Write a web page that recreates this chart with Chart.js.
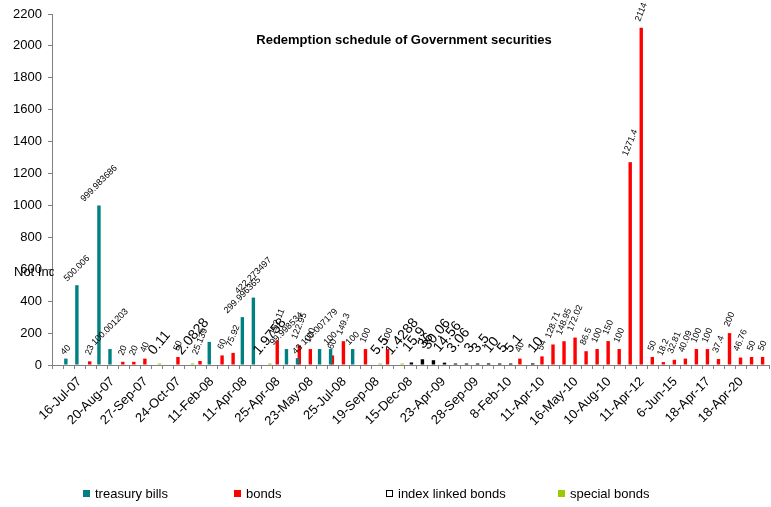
<!DOCTYPE html>
<html>
<head>
<meta charset="utf-8">
<title>Redemption schedule</title>
<script src="https://cdn.jsdelivr.net/npm/chart.js@4.4.1/dist/chart.umd.min.js"></script>
<style>
    body { margin: 0; background: #fff; }
    canvas { display: block; }
</style>
</head>
<body>
<canvas id="redemptionChart" width="771" height="507"></canvas>
<script>
// 65 redemption slots, only every third one carries a date on the axis
const slotCount = 65;
const tickLabels = [
    '16-Jul-07', '20-Aug-07', '27-Sep-07', '24-Oct-07', '11-Feb-08', '11-Apr-08',
    '25-Apr-08', '23-May-08', '25-Jul-08', '19-Sep-08', '15-Dec-08', '23-Apr-09',
    '28-Sep-09', '8-Feb-10', '11-Apr-10', '16-May-10', '10-Aug-10', '11-Apr-12',
    '6-Jun-15', '18-Apr-17', '18-Apr-20'
];

// [slot, amount] pairs per instrument
const treasuryBills = [
    [1, 40], [2, 500.006], [4, 999.983686], [5, 100.001203], [14, 145],
    [17, 299.996365], [18, 422.273497], [21, 99.998534], [22, 43],
    [24, 100.007179], [25, 100], [27, 100]
];
const bonds = [
    [3, 23], [6, 20], [7, 20], [8, 40], [11, 50], [13, 25.139], [15, 60],
    [16, 75.92], [20, 152.11], [22, 122.95], [23, 100], [25, 60], [26, 149.3],
    [28, 100], [30, 100], [42, 40], [44, 54], [45, 128.71], [46, 148.95],
    [47, 172.02], [48, 86.5], [49, 100], [50, 150], [51, 100], [52, 1271.4],
    [53, 2114], [54, 50], [55, 18.2], [56, 32.81], [57, 40.09], [58, 100],
    [59, 100], [60, 37.4], [61, 200], [62, 46.76], [63, 50], [64, 50]
];
const indexLinkedBonds = [
    [32, 15.9], [33, 36], [34, 30.06], [35, 14.56], [36, 3.06], [37, 3],
    [38, 3.5], [39, 10], [40, 5], [41, 5.1], [43, 10]
];
const specialBonds = [
    [9, 0.11], [12, 2.0828], [19, 1.9758], [29, 5.5], [31, 1.4288]
];
// bars printed without a value label
const unlabeledBills = [14];

function toSeries(pairs) {
    const out = new Array(slotCount).fill(null);
    pairs.forEach(function (p) { out[p[0]] = p[1]; });
    return out;
}

const categories = [];
for (let i = 0; i < slotCount; i++) {
    categories.push(i % 3 === 2 ? (tickLabels[(i - 2) / 3] || '') : '');
}

const FONT = 'Arial, "Liberation Sans", sans-serif';

// rotated value labels above each bar
const valueLabels = {
    id: 'valueLabels',
    afterDatasetsDraw(chart) {
        const ctx = chart.ctx;
        chart.data.datasets.forEach(function (ds, di) {
            const meta = chart.getDatasetMeta(di);
            const st = ds.labelStyle;
            meta.data.forEach(function (bar, i) {
                const v = ds.data[i];
                if (v === null || v === undefined) return;
                if (ds.skipLabels && ds.skipLabels.indexOf(i) !== -1) return;
                const text = String(v);
                ctx.save();
                ctx.font = st.size + 'px ' + FONT;
                const w = ctx.measureText(text).width;
                const a = st.angle * Math.PI / 180;
                const bh = w * Math.sin(a) + st.size * Math.cos(a);
                const top = Math.min(bar.y, bar.base);
                ctx.translate(bar.x + (st.dx || 0), top - st.gap - bh / 2);
                ctx.rotate(-a);
                ctx.fillStyle = '#000';
                ctx.textAlign = 'center';
                ctx.textBaseline = 'middle';
                ctx.fillText(text, 0, 0);
                ctx.restore();
            });
        });
    }
};

// title, stray series caption and the bottom legend
const decorations = {
    id: 'decorations',
    afterDraw(chart) {
        const ctx = chart.ctx;
        const area = chart.chartArea;
        ctx.save();
        ctx.fillStyle = '#000';
        ctx.font = 'bold 13px ' + FONT;
        ctx.textAlign = 'center';
        ctx.textBaseline = 'middle';
        ctx.fillText('Redemption schedule of Government securities', 404, 40);

        ctx.save();
        ctx.beginPath();
        ctx.rect(0, 0, area.left + 2, chart.height);
        ctx.clip();
        ctx.font = '13px ' + FONT;
        ctx.textAlign = 'left';
        ctx.fillText('Not Indexed', 14, 272);
        ctx.restore();

        const legendX = [83, 234, 386, 558];
        ctx.font = '13px ' + FONT;
        ctx.textAlign = 'left';
        chart.data.datasets.forEach(function (ds, di) {
            const x = legendX[di];
            const box = ds.legendBox || { fill: ds.backgroundColor };
            ctx.fillStyle = box.fill;
            ctx.fillRect(x, 490, 7, 7);
            if (box.stroke) {
                ctx.strokeStyle = box.stroke;
                ctx.lineWidth = 1;
                ctx.strokeRect(x + 0.5, 490.5, 6, 6);
            }
            ctx.fillStyle = '#000';
            ctx.fillText(ds.label, x + 12, 494);
        });
        ctx.restore();
    }
};

const ctxRedemption = document.getElementById('redemptionChart').getContext('2d');
const redemptionChart = new Chart(ctxRedemption, {
    type: 'bar',
    data: {
        labels: categories,
        datasets: [
            {
                label: 'treasury bills',
                data: toSeries(treasuryBills),
                backgroundColor: '#008080',
                borderWidth: 0,
                skipLabels: unlabeledBills,
                labelStyle: { size: 9, angle: 45, gap: 2 }
            },
            {
                label: 'bonds',
                data: toSeries(bonds),
                backgroundColor: '#FF0000',
                borderWidth: 0,
                labelStyle: { size: 9, angle: 68, gap: 5 }
            },
            {
                label: 'index linked bonds',
                data: toSeries(indexLinkedBonds),
                backgroundColor: '#000000',
                borderWidth: 0,
                minBarLength: 1.5,
                legendBox: { fill: '#FFFFFF', stroke: '#000000' },
                labelStyle: { size: 14, angle: 50, gap: 8, dx: 3 }
            },
            {
                label: 'special bonds',
                data: toSeries(specialBonds),
                backgroundColor: '#99CC00',
                borderWidth: 0,
                minBarLength: 1.5,
                labelStyle: { size: 14, angle: 50, gap: 6 }
            }
        ]
    },
    options: {
        responsive: false,
        animation: false,
        categoryPercentage: 0.65,
        barPercentage: 1.9,
        layout: { padding: { top: 14, right: 2, left: 0, bottom: 0 } },
        plugins: {
            legend: { display: false },
            tooltip: { enabled: false }
        },
        scales: {
            x: {
                afterFit: function (s) {
                    s.height = 142;
                    s.paddingLeft = 0;
                    s.paddingRight = 0;
                },
                border: { color: '#808080' },
                grid: { drawOnChartArea: false, tickLength: 4, color: '#808080', offset: true },
                ticks: {
                    autoSkip: false,
                    minRotation: 45,
                    maxRotation: 45,
                    padding: 5,
                    color: '#000',
                    font: { family: FONT, size: 13 }
                }
            },
            y: {
                min: 0,
                max: 2200,
                afterFit: function (s) { s.width = 52; },
                border: { color: '#808080' },
                grid: { drawOnChartArea: false, tickLength: 4, color: '#808080' },
                ticks: {
                    stepSize: 200,
                    padding: 6,
                    color: '#000',
                    font: { family: FONT, size: 13 },
                    callback: function (v) { return String(v); }
                }
            }
        }
    },
    plugins: [valueLabels, decorations]
});
</script>
</body>
</html>
